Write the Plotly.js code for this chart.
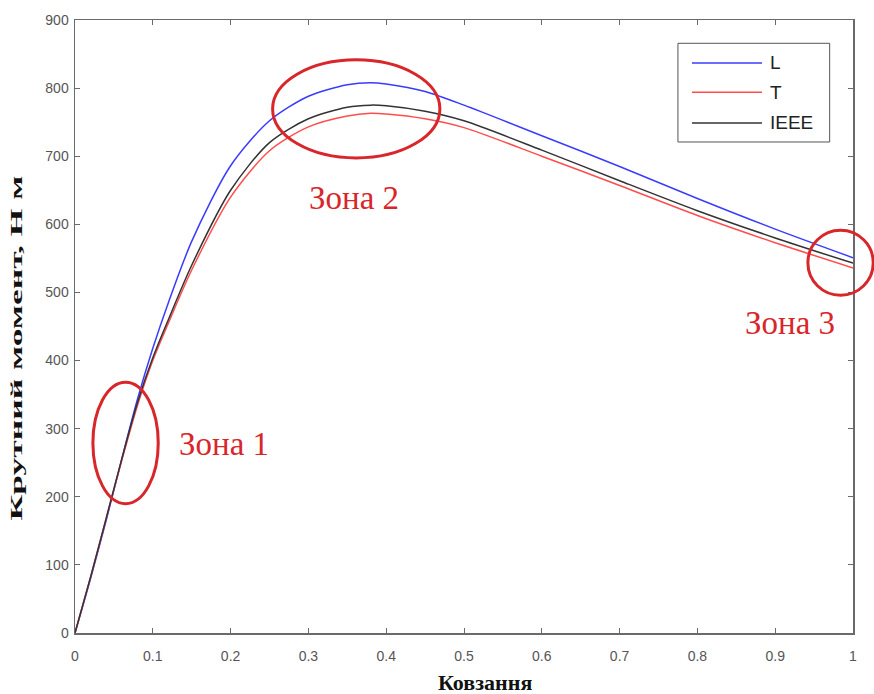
<!DOCTYPE html>
<html><head><meta charset="utf-8">
<script src="https://cdn.plot.ly/plotly-3.0.1.min.js"></script>
<style>html,body{margin:0;padding:0;background:#fff}</style>
</head><body>
<div id="chart" style="width:874px;height:694px"></div>
<script>
const slip = [0, 0.02, 0.04, 0.06, 0.08, 0.1, 0.12, 0.15, 0.2, 0.25, 0.3, 0.35, 0.38, 0.4, 0.45, 0.5, 0.6, 0.7, 0.8, 0.9, 1.0];
const torqueL    = [0, 80, 165, 255, 342, 418, 485, 575, 686, 752, 788, 805, 808, 806, 795, 775, 730, 685, 638, 593, 551];
const torqueT    = [0, 82, 168, 253, 333, 400, 455, 533, 640, 708, 743, 759, 763, 762, 755, 742, 700, 657, 613, 573, 536];
const torqueIEEE = [0, 82, 168, 255, 337, 404, 460, 540, 650, 720, 755, 772, 775, 774, 766, 752, 709, 664, 620, 580, 543];
const seriesNames = ["L", "T", "IEEE"];
const xTicks = [0, 0.1, 0.2, 0.3, 0.4, 0.5, 0.6, 0.7, 0.8, 0.9, 1];
const yTicks = [0, 100, 200, 300, 400, 500, 600, 700, 800, 900];
const zoneLabels = ["Зона 1", "Зона 2", "Зона 3"];
const xTitle = "Ковзання";
const yTitle = "Крутний момент, Н м";

const colors = ["#3b3bff", "#ff4d4d", "#333333"];
const ys = [torqueL, torqueT, torqueIEEE];
const traces = ys.map((y, i) => ({
  x: slip, y: y, name: seriesNames[i], type: "scatter", mode: "lines",
  showlegend: false,
  line: {color: colors[i], width: 1.5, shape: "spline", smoothing: 0.8}
}));

const zoneRed = "#d8262b";
const ellipses = [
  {x0: 0.023, x1: 0.107, y0: 0.211, y1: 0.409},
  {x0: 0.254, x1: 0.469, y0: 0.775, y1: 0.935},
  {x0: 0.942, x1: 1.026, y0: 0.551, y1: 0.657}
];
const shapes = ellipses.map(e => ({
  type: "circle", xref: "paper", yref: "paper",
  x0: e.x0, x1: e.x1, y0: e.y0, y1: e.y1,
  line: {color: zoneRed, width: 3}
}));

// custom legend (box, line samples, labels)
const legBox = {x0: 0.775, x1: 0.970, y0: 0.801, y1: 0.962};
const legRows = [0.930, 0.882, 0.832];
shapes.push({type: "rect", xref: "paper", yref: "paper",
  x0: legBox.x0, x1: legBox.x1, y0: legBox.y0, y1: legBox.y1,
  line: {color: "#555", width: 1}, fillcolor: "rgba(0,0,0,0)"});
legRows.forEach((ry, i) => shapes.push({type: "line", xref: "paper", yref: "paper",
  x0: 0.793, x1: 0.883, y0: ry, y1: ry, line: {color: colors[i], width: 1.5}}));

const labelPos = [{x: 0.192, y: 0.308}, {x: 0.359, y: 0.710}, {x: 0.919, y: 0.506}];
const annotations = zoneLabels.map((t, i) => ({
  text: t, xref: "paper", yref: "paper", x: labelPos[i].x, y: labelPos[i].y,
  showarrow: false, xanchor: "center", yanchor: "middle",
  font: {family: "Liberation Serif, serif", size: 33, color: zoneRed}
}));
legRows.forEach((ry, i) => annotations.push({
  text: seriesNames[i], xref: "paper", yref: "paper", x: 0.891, y: ry,
  showarrow: false, xanchor: "left", yanchor: "middle",
  font: {family: "Liberation Sans, Arial, sans-serif", size: 19, color: "#222"}
}));
annotations.push({
  text: "<b>" + xTitle + "</b>", xref: "paper", yref: "paper", x: 0.527, y: -0.080,
  showarrow: false, xanchor: "center", yanchor: "middle",
  font: {family: "Liberation Serif, serif", size: 22, color: "#111"}
});
annotations.push({
  text: "<b>" + yTitle + "</b>", xref: "paper", yref: "paper", x: -0.075, y: 0.465,
  showarrow: false, xanchor: "center", yanchor: "middle", textangle: -90,
  font: {family: "Liberation Serif, serif", size: 17, color: "#111"}
});

const axisCommon = {
  showgrid: false, zeroline: false, showline: true, mirror: "ticks",
  linecolor: "#6a6a6a", linewidth: 1.5, ticks: "inside", ticklen: 5,
  tickcolor: "#6a6a6a", tickwidth: 1,
  tickfont: {family: "Liberation Sans, Arial, sans-serif", size: 14, color: "#555"}
};

const layout = {
  width: 874, height: 694,
  margin: {l: 75, r: 21, t: 20, b: 61},
  paper_bgcolor: "#fff", plot_bgcolor: "#fff",
  showlegend: false,
  xaxis: Object.assign({}, axisCommon, {
    range: [0, 1], tickvals: xTicks, ticktext: xTicks.map(String), ticklabelstandoff: 10
  }),
  yaxis: Object.assign({}, axisCommon, {
    range: [0, 900], tickvals: yTicks, ticktext: yTicks.map(String), ticklabelstandoff: 2
  }),
  shapes: shapes,
  annotations: annotations
};

Plotly.newPlot("chart", traces, layout, {displayModeBar: false, staticPlot: true}).then(() => {
  // stretch the vertical title along its baseline like the reference
  document.querySelectorAll(".annotation-text").forEach(t => {
    if (t.textContent === yTitle) {
      t.setAttribute("textLength", "345");
      t.setAttribute("lengthAdjust", "spacingAndGlyphs");
    }
  });
});
</script>
</body></html>
